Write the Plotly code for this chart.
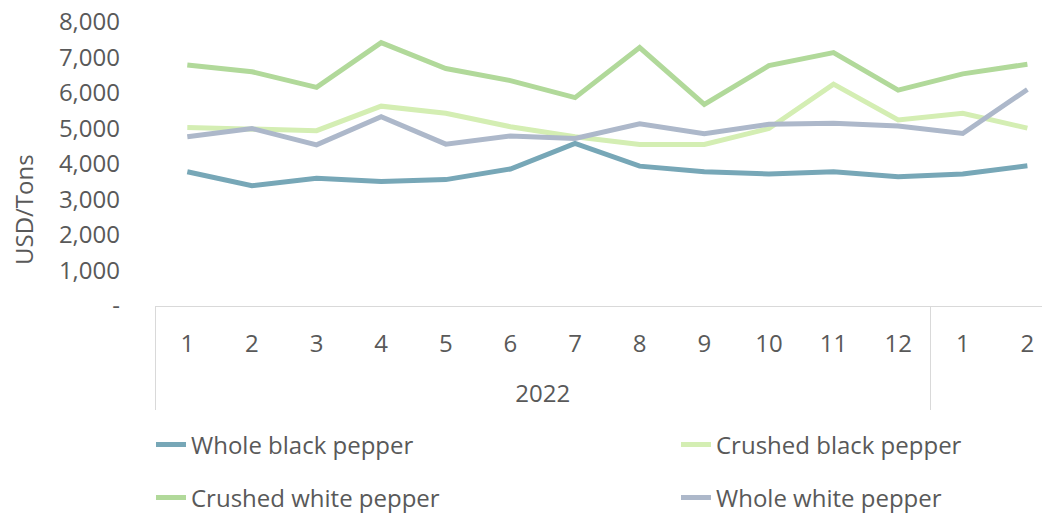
import plotly.graph_objects as go

# ---- data ----
years = ["<br>2022"] * 12 + [" "] * 2
months = ["1", "2", "3", "4", "5", "6", "7", "8", "9", "10", "11", "12", "1", "2"]

whole_black = [3780, 3390, 3600, 3510, 3560, 3860, 4580, 3940, 3780, 3720, 3780, 3640, 3720, 3950]
crushed_black = [5030, 5000, 4940, 5630, 5430, 5050, 4770, 4550, 4550, 5000, 6250, 5240, 5430, 5010]
crushed_white = [6790, 6600, 6160, 7420, 6690, 6350, 5870, 7280, 5680, 6770, 7140, 6080, 6540, 6810]
whole_white = [4770, 5000, 4540, 5330, 4560, 4790, 4720, 5130, 4850, 5120, 5150, 5070, 4860, 6100]

y_tickvals = [0, 1000, 2000, 3000, 4000, 5000, 6000, 7000, 8000]
y_ticktext = ["-", "1,000", "2,000", "3,000", "4,000", "5,000", "6,000", "7,000", "8,000"]
y_title = "USD/Tons"

series = [
    ("Whole black pepper", whole_black, "#77A7B7", "legend"),
    ("Crushed black pepper", crushed_black, "#D4EEB3", "legend2"),
    ("Crushed white pepper", crushed_white, "#B1D99A", "legend3"),
    ("Whole white pepper", whole_white, "#ADB8CA", "legend4"),
]

FONT = "Open Sans"
GRAY = "#595959"
W, H = 1042, 506          # page body adds an 8px offset
ML, MT, MB = 147, 14, 208
PLOT_H = H - MT - MB

fig = go.Figure()
for name, vals, color, lg in series:
    fig.add_trace(go.Scatter(
        x=[years, months], y=vals, name=name, mode="lines",
        line=dict(color=color, width=5), legend=lg,
    ))


def leg(xpx, ypx):
    return dict(
        orientation="h", xref="container", yref="container",
        x=xpx / W, xanchor="left", y=1 - ypx / H, yanchor="middle",
        font=dict(family=FONT, size=24, color=GRAY), bgcolor="rgba(0,0,0,0)",
    )


fig.update_layout(
    width=W, height=H,
    margin=dict(l=ML, r=0, t=MT, b=MB, autoexpand=False),
    paper_bgcolor="white", plot_bgcolor="white",
    font=dict(family=FONT, size=24, color=GRAY),
    xaxis=dict(
        type="multicategory", range=[-0.5, 13.35],
        showgrid=False, zeroline=False, showline=True,
        linecolor="#D9D9D9", linewidth=1,
        showdividers=True, dividercolor="#D9D9D9", dividerwidth=1,
        ticks="", ticklabelstandoff=16, automargin=False,
        tickfont=dict(family=FONT, size=24, color=GRAY),
    ),
    yaxis=dict(
        range=[0, 8000], tickvals=y_tickvals, ticktext=y_ticktext,
        showgrid=False, zeroline=False, showline=False, ticks="",
        ticklabelstandoff=34, automargin=False, ticklabeloverflow="allow",
        tickfont=dict(family=FONT, size=24, color=GRAY),
    ),
    legend=leg(143, 437),
    legend2=leg(668, 437),
    legend3=leg(143, 490),
    legend4=leg(668, 490),
    showlegend=True,
    annotations=[dict(
        text=y_title, textangle=-90, xref="paper", yref="paper",
        x=(15 - ML) / (W - ML), y=(MT + PLOT_H - 202) / PLOT_H,
        xanchor="center", yanchor="middle", showarrow=False,
        font=dict(family=FONT, size=24, color=GRAY),
    )],
)

fig.write_html("out.html")
